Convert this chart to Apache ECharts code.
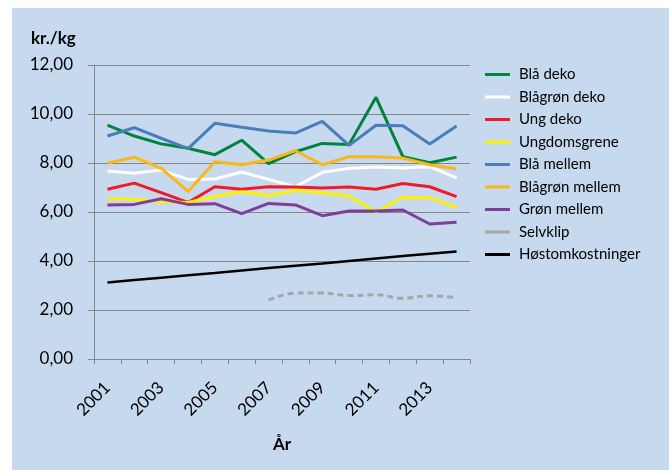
<!DOCTYPE html>
<html>
<head>
<meta charset="utf-8">
<script src="https://cdn.jsdelivr.net/npm/echarts@6/dist/echarts.min.js"></script>
<style>
  html, body { margin: 0; padding: 0; background: #fff; }
  #chart { width: 669px; height: 470px; }
</style>
</head>
<body>
<div id="chart"></div>
<script>
// år
let years = ['2001','2002','2003','2004','2005','2006','2007','2008','2009','2010','2011','2012','2013','2014'];

// kr./kg per serie
let blaDeko        = [9.55, 9.10, 8.78, 8.60, 8.34, 8.93, 7.97, 8.46, 8.80, 8.76, 10.68, 8.26, 8.01, 8.24];
let blagronDeko    = [7.67, 7.58, 7.71, 7.33, 7.35, 7.63, 7.33, 7.03, 7.62, 7.78, 7.84, 7.80, 7.85, 7.39];
let ungDeko        = [6.93, 7.18, 6.79, 6.39, 7.03, 6.93, 7.03, 7.02, 6.98, 7.02, 6.93, 7.16, 7.03, 6.63];
let ungdomsgrene   = [6.54, 6.52, 6.42, 6.39, 6.63, 6.83, 6.67, 6.88, 6.79, 6.65, 6.00, 6.60, 6.59, 6.20];
let blaMellem      = [9.10, 9.44, 9.01, 8.59, 9.62, 9.46, 9.31, 9.22, 9.70, 8.72, 9.54, 9.52, 8.78, 9.51];
let blagronMellem  = [7.99, 8.24, 7.78, 6.84, 8.05, 7.93, 8.12, 8.50, 7.93, 8.26, 8.26, 8.20, 7.93, 7.76];
let gronMellem     = [6.29, 6.31, 6.54, 6.31, 6.34, 5.93, 6.35, 6.29, 5.85, 6.04, 6.04, 6.08, 5.51, 5.58];
let selvklip       = [null, null, null, null, null, null, 2.41, 2.69, 2.69, 2.59, 2.62, 2.48, 2.58, 2.51];
let hostomkost     = [3.12, 3.22, 3.32, 3.42, 3.51, 3.61, 3.71, 3.81, 3.90, 4.00, 4.10, 4.20, 4.30, 4.39];

let names  = ['Blå deko', 'Blågrøn deko', 'Ung deko', 'Ungdomsgrene', 'Blå mellem', 'Blågrøn mellem', 'Grøn mellem', 'Selvklip', 'Høstomkostninger'];
let values = [blaDeko, blagronDeko, ungDeko, ungdomsgrene, blaMellem, blagronMellem, gronMellem, selvklip, hostomkost];
let colors = ['#00843d', '#ffffff', '#ee1c25', '#fff200', '#4a7ebb', '#fdb714', '#7f3f98', '#a6a6a6', '#000000'];

let font = 'Lato, "Liberation Sans", sans-serif';

function makeSeries() {
  let serie = [];
  for (let i = 0; i < names.length; i++) {
    let dashed = names[i] === 'Selvklip';
    serie.push({
      name: names[i],
      type: 'line',
      data: values[i],
      symbol: 'none',
      smooth: dashed ? 0.4 : false,
      connectNulls: false,
      color: colors[i],
      lineStyle: {
        color: colors[i],
        width: names[i] === 'Høstomkostninger' ? 2.5 : 3,
        type: dashed ? [6, 4] : 'solid'
      }
    });
  }
  return serie;
}

let myChart = echarts.init(document.getElementById('chart'));

let option = {
  animation: false,
  backgroundColor: '#ffffff',
  graphic: [{
    type: 'rect',
    z: -10,
    silent: true,
    shape: { x: 12, y: 8, width: 657, height: 462 },
    style: { fill: '#c6d9ee' }
  }, {
    type: 'text',
    left: 31, top: 30,
    style: { text: 'kr./kg', font: 'bold 17px ' + font, fill: '#000' }
  }],
  legend: {
    orient: 'vertical',
    left: 485,
    top: 67,
    padding: 0,
    itemWidth: 25,
    itemHeight: 14,
    itemGap: 7.5,
    icon: 'path://M0,0 L25,0 L25,3 L0,3 Z',
    data: names,
    textStyle: { fontFamily: font, fontSize: 15, color: '#000', padding: [0, 0, 0, 4], lineHeight: 14 }
  },
  grid: {
    left: 94,
    right: 199,
    top: 65,
    bottom: 111,
    containLabel: false
  },
  xAxis: {
    type: 'category',
    data: years,
    boundaryGap: true,
    name: 'År',
    nameLocation: 'middle',
    nameGap: 77,
    nameTextStyle: { fontFamily: font, fontSize: 17, fontWeight: 'bold', color: '#000' },
    axisLine: { lineStyle: { color: '#868686', width: 1 } },
    axisTick: { show: true, length: 5, interval: 0, alignWithLabel: false, lineStyle: { color: '#868686' } },
    axisLabel: {
      interval: 1,
      rotate: 45,
      margin: 26,
      fontFamily: font,
      fontSize: 17,
      color: '#000'
    },
    splitLine: { show: false }
  },
  yAxis: {
    type: 'value',
    min: 0,
    max: 12,
    interval: 2,
    axisLine: { show: true, lineStyle: { color: '#868686', width: 1 } },
    axisTick: { show: true, length: 6, lineStyle: { color: '#868686' } },
    axisLabel: {
      margin: 21,
      fontFamily: font,
      fontSize: 17,
      color: '#000',
      formatter: function (v) { return v.toFixed(2).replace('.', ','); }
    },
    splitLine: { show: true, lineStyle: { color: '#868686', width: 1 } }
  },
  series: makeSeries()
};

myChart.setOption(option);
</script>
</body>
</html>
